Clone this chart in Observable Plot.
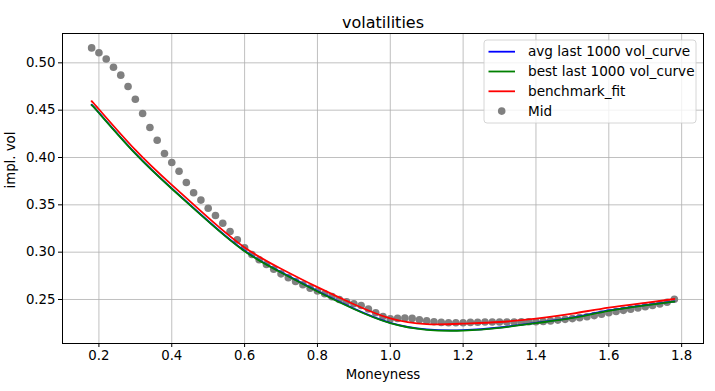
<!DOCTYPE html>
<html><head><meta charset="utf-8">
<script src="https://cdn.jsdelivr.net/npm/d3@7"></script>
<script src="https://cdn.jsdelivr.net/npm/@observablehq/plot@0.6"></script>
<style>
body{margin:0;background:#fff}
#chart{position:relative;width:715px;height:391px}
</style>
</head><body><div id="chart"></div>
<script>
// ---- data ----
const midX = [0.18,0.20,0.22,0.24,0.26,0.28,0.30,0.32,0.34,0.36,0.38,0.40,0.42,0.44,0.46,0.48,0.50,0.52,0.54,0.56,0.58,0.60,0.62,0.64,0.66,0.68,0.70,0.72,0.74,0.76,0.78,0.80,0.82,0.84,0.86,0.88,0.90,0.92,0.94,0.96,0.98,1.00,1.02,1.04,1.06,1.08,1.10,1.12,1.14,1.16,1.18,1.20,1.22,1.24,1.26,1.28,1.30,1.32,1.34,1.36,1.38,1.40,1.42,1.44,1.46,1.48,1.50,1.52,1.54,1.56,1.58,1.60,1.62,1.64,1.66,1.68,1.70,1.72,1.74,1.76,1.78];
const midVol = [0.5158,0.5106,0.5040,0.4953,0.4870,0.4750,0.4616,0.4465,0.4317,0.4182,0.4042,0.3947,0.3855,0.3736,0.3627,0.3550,0.3464,0.3387,0.3306,0.3218,0.3130,0.3046,0.2975,0.2919,0.2869,0.2820,0.2771,0.2729,0.2690,0.2655,0.2620,0.2590,0.2560,0.2530,0.2500,0.2475,0.2455,0.2437,0.2400,0.2360,0.2320,0.2295,0.2300,0.2305,0.2300,0.2285,0.2275,0.2265,0.2258,0.2255,0.2255,0.2255,0.2258,0.2260,0.2262,0.2262,0.2262,0.2262,0.2262,0.2263,0.2264,0.2265,0.2268,0.2274,0.2282,0.2290,0.2298,0.2308,0.2318,0.2330,0.2345,0.2360,0.2373,0.2385,0.2398,0.2410,0.2423,0.2437,0.2452,0.2470,0.2503];

const curveX = [0.18,0.20,0.30,0.40,0.50,0.60,0.70,0.80,0.90,1.00,1.10,1.20,1.30,1.40,1.50,1.60,1.70,1.78];
const benchVol = [0.4594,0.4510,0.4080,0.3710,0.3365,0.3050,0.2825,0.2630,0.2450,0.2300,0.2240,0.2245,0.2262,0.2298,0.2350,0.2415,0.2465,0.2505];
const bestVol  = [0.4552,0.4470,0.4040,0.3670,0.3325,0.3010,0.2785,0.2585,0.2400,0.2250,0.2180,0.2172,0.2200,0.2250,0.2305,0.2380,0.2437,0.2477];
const avgVol   = [0.4556,0.4474,0.4044,0.3674,0.3329,0.3014,0.2789,0.2589,0.2404,0.2254,0.2184,0.2176,0.2204,0.2254,0.2309,0.2384,0.2441,0.2481];

const xTicks = [0.2,0.4,0.6,0.8,1.0,1.2,1.4,1.6,1.8];
const yTicks = [0.25,0.30,0.35,0.40,0.45,0.50];

const seriesNames = ["avg last 1000 vol_curve","best last 1000 vol_curve","benchmark_fit","Mid"];
const seriesColors = ["blue","green","red","#808080"];

const mid = midX.map((x,i)=>({x, v: midVol[i]}));
const avg = curveX.map((x,i)=>({x, v: avgVol[i]}));
const best = curveX.map((x,i)=>({x, v: bestVol[i]}));
const bench = curveX.map((x,i)=>({x, v: benchVol[i]}));

const gridStyle = {stroke:"#b0b0b0", strokeOpacity:1, strokeWidth:0.8};
const lw = 1.8;
const fs = 13.3;

const chart = Plot.plot({
  width:715, height:391,
  marginLeft:62, marginRight:12, marginTop:33, marginBottom:48,
  style:{fontFamily:"DejaVu Sans", fontSize:fs+"px", background:"white", color:"black"},
  x:{domain:[0.1,1.86]},
  y:{domain:[0.2035,0.531]},
  marks:[
    Plot.gridX(xTicks, gridStyle),
    Plot.gridY(yTicks, gridStyle),
    Plot.dot(mid, {x:"x", y:"v", r:3.8, fill:seriesColors[3], stroke:null}),
    Plot.line(avg, {x:"x", y:"v", stroke:seriesColors[0], strokeWidth:lw, curve:"natural"}),
    Plot.line(best, {x:"x", y:"v", stroke:seriesColors[1], strokeWidth:lw, curve:"natural"}),
    Plot.line(bench, {x:"x", y:"v", stroke:seriesColors[2], strokeWidth:lw, curve:"natural"}),
    Plot.frame({stroke:"black", strokeWidth:1}),
    Plot.axisX(xTicks, {tickSize:4, tickPadding:3, tickFormat:d3.format(".1f"), label:null, fontSize:fs}),
    Plot.axisY(yTicks, {tickSize:4, tickPadding:3, tickFormat:d3.format(".2f"), label:null, fontSize:fs}),
    Plot.text(["volatilities"], {frameAnchor:"top", dy:-17, fontSize:16, text:d=>d}),
    Plot.text(["Moneyness"], {frameAnchor:"bottom", dy:35, fontSize:fs, text:d=>d}),
    Plot.text(["impl. vol"], {frameAnchor:"left", dx:-52, rotate:-90, fontSize:fs, text:d=>d})
  ]
});
document.getElementById("chart").appendChild(chart);

// legend (upper right, matplotlib style)
const svg = d3.select(chart);
const lg = svg.append("g").attr("transform","translate(484,40)");
lg.append("rect").attr("width",212).attr("height",83).attr("rx",3)
  .attr("fill","white").attr("fill-opacity",0.8).attr("stroke","#cccccc").attr("stroke-width",0.8);
seriesNames.forEach((name,i)=>{
  const y = 11.7 + i*19.8;
  if (i < 3) {
    lg.append("line").attr("x1",4.5).attr("x2",31).attr("y1",y).attr("y2",y)
      .attr("stroke",seriesColors[i]).attr("stroke-width",lw);
  } else {
    lg.append("circle").attr("cx",17.7).attr("cy",y).attr("r",3.8).attr("fill",seriesColors[i]);
  }
  lg.append("text").attr("x",44).attr("y",y).attr("dy","0.35em").attr("text-anchor","start")
    .attr("font-family","DejaVu Sans").attr("font-size",13.6).attr("fill","black").text(name);
});
</script>
</body></html>
